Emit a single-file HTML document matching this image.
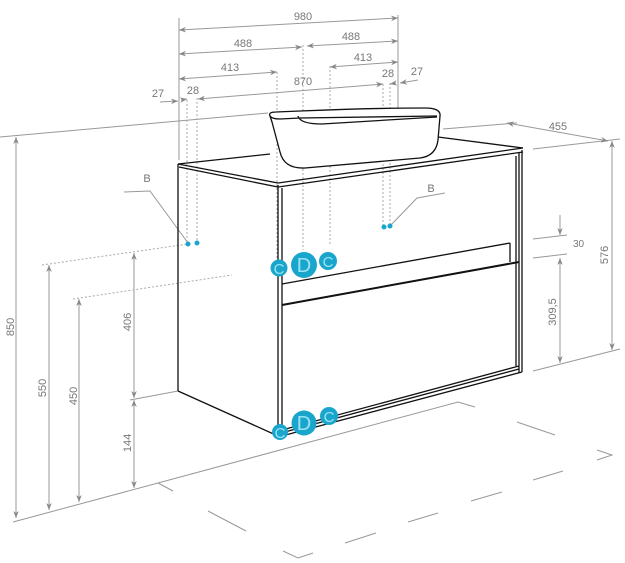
<!DOCTYPE html>
<html><head><meta charset="utf-8"><style>
html,body{margin:0;padding:0;background:#fff;}
svg{display:block;}
text{font-family:"Liberation Sans",sans-serif;fill:#777;font-size:11px;}
</style></head><body>
<svg width="625" height="563" viewBox="0 0 625 563" xmlns="http://www.w3.org/2000/svg">
<defs>
<marker id="a" viewBox="0 0 10 10" refX="10" refY="5" markerWidth="7" markerHeight="7" orient="auto-start-reverse" markerUnits="userSpaceOnUse"><path d="M0,1 L10,5 L0,9 L3,5 Z" fill="#888"/></marker>
</defs>
<g stroke="#999" stroke-width="1" fill="none">
<line x1="179" y1="30" x2="398" y2="18" marker-start="url(#a)" marker-end="url(#a)"/>
<line x1="179" y1="54" x2="302" y2="47" marker-start="url(#a)" marker-end="url(#a)"/>
<line x1="307" y1="46" x2="398" y2="41" marker-start="url(#a)" marker-end="url(#a)"/>
<line x1="179" y1="79" x2="277" y2="72" marker-start="url(#a)" marker-end="url(#a)"/>
<line x1="330" y1="67" x2="398" y2="62" marker-start="url(#a)" marker-end="url(#a)"/>
<line x1="198" y1="99" x2="383" y2="84" marker-start="url(#a)" marker-end="url(#a)"/>
<line x1="160" y1="102" x2="178" y2="101" marker-end="url(#a)"/>
<line x1="181" y1="100" x2="187" y2="99" marker-end="url(#a)"/>
<line x1="418" y1="80" x2="400" y2="83" marker-end="url(#a)"/>
<line x1="396" y1="83" x2="390" y2="84" marker-end="url(#a)"/>
<line x1="179" y1="18" x2="179" y2="160"/>
<line x1="398" y1="15" x2="398" y2="112"/>
<line x1="0" y1="137" x2="268" y2="113"/>
<line x1="16" y1="137" x2="16" y2="518" marker-start="url(#a)" marker-end="url(#a)"/>
<line x1="49" y1="265" x2="49" y2="510" marker-start="url(#a)" marker-end="url(#a)"/>
<line x1="79" y1="299" x2="79" y2="502" marker-start="url(#a)" marker-end="url(#a)"/>
<line x1="134" y1="253" x2="134" y2="398" marker-start="url(#a)" marker-end="url(#a)"/>
<line x1="134" y1="400" x2="134" y2="488" marker-start="url(#a)" marker-end="url(#a)"/>
<line x1="130" y1="400" x2="178" y2="391"/>
<polyline points="13,522 158,483 458,402 475,407"/>
<line x1="158" y1="483" x2="173" y2="491"/>
<line x1="208" y1="511" x2="246" y2="531"/>
<polyline points="283,551 298,558 313,553"/>
<line x1="345" y1="543" x2="376" y2="533"/>
<line x1="408" y1="522" x2="438" y2="513"/>
<line x1="471" y1="501" x2="502" y2="492"/>
<line x1="533" y1="480" x2="563" y2="471"/>
<polyline points="597,450 612,455 597,460"/>
<line x1="517" y1="422" x2="555" y2="435"/>
<line x1="443" y1="129" x2="517" y2="123"/>
<line x1="533" y1="149" x2="620" y2="139"/>
<line x1="507" y1="123" x2="608" y2="141" marker-start="url(#a)" marker-end="url(#a)"/>
<line x1="612" y1="141" x2="612" y2="350" marker-start="url(#a)" marker-end="url(#a)"/>
<line x1="533" y1="371" x2="620" y2="349"/>
<line x1="533" y1="239" x2="567" y2="235"/>
<line x1="533" y1="258" x2="567" y2="254"/>
<line x1="560" y1="215" x2="560" y2="235" marker-end="url(#a)"/>
<line x1="560" y1="258" x2="560" y2="363" marker-start="url(#a)" marker-end="url(#a)"/>
<polyline points="124,192 150,191 188,243"/>
<polyline points="445,193 417,198 390,226"/>
</g>
<g stroke="#aaa" stroke-width="1" stroke-dasharray="2,2" fill="none">
<line x1="187" y1="100" x2="187" y2="242"/>
<line x1="197" y1="98" x2="197" y2="241"/>
<line x1="277" y1="72" x2="277" y2="258"/>
<line x1="303" y1="45" x2="303" y2="250"/>
<line x1="330" y1="66" x2="330" y2="245"/>
<line x1="383" y1="84" x2="383" y2="225"/>
<line x1="390" y1="83" x2="390" y2="224"/>
<line x1="42" y1="265" x2="188" y2="244"/>
<line x1="73" y1="299" x2="232" y2="275"/>
</g>
<g stroke="#111" stroke-width="1.3" fill="none" stroke-linejoin="round">
<polyline points="178,164 270,154"/>
<polyline points="438,137 523,148"/>
<polyline points="178,164 278,183 523,148"/>
<polyline points="179,167 278,187 523,152"/>
<line x1="178" y1="164" x2="178" y2="391"/>
<line x1="178" y1="391" x2="278" y2="436"/>
<line x1="278" y1="185" x2="278" y2="437"/>
<line x1="282" y1="188" x2="282" y2="434"/>
<line x1="519" y1="152" x2="519" y2="373"/>
<line x1="522" y1="150" x2="522" y2="372"/>
<line x1="278" y1="437" x2="522" y2="372"/>
<line x1="281" y1="433" x2="519" y2="369"/>
<line x1="282" y1="430" x2="519" y2="366"/>
<line x1="282" y1="284" x2="510" y2="243"/>
<line x1="510" y1="243" x2="510" y2="262"/>
<line x1="516" y1="156" x2="516" y2="366"/>
<line x1="282" y1="305" x2="519" y2="262" stroke-width="2"/>
</g>
<g stroke="#111" stroke-width="1.3" fill="#fff" stroke-linejoin="round">
<path d="M270,116 Q268,112 276,112 L300,111 Q370,108 425,108 Q441,108 440,116 L438,140 Q436,156 420,158 L305,168 Q284,169 280,152 L272,122 Z"/>
<path d="M270,116 Q272,119 280,119 L300,118 L437,116" fill="none"/>
<path d="M298,116 Q300,124 322,124 L437,117" fill="none"/>
</g>
<g fill="#1aa6cc">
<circle cx="188" cy="244" r="2.5"/><circle cx="197" cy="243" r="2.5"/>
<circle cx="384" cy="227" r="2.5"/><circle cx="390" cy="226" r="2.5"/>
<circle cx="279" cy="268" r="8.5"/><circle cx="304" cy="265" r="13"/><circle cx="328" cy="261" r="9"/>
<circle cx="280" cy="432" r="8"/><circle cx="304" cy="423" r="12.5"/><circle cx="329" cy="416" r="9"/>
</g>
<text x="279" y="274" text-anchor="middle" style="fill:#9be3f3;font-size:15px">C</text>
<text x="304" y="272" text-anchor="middle" style="fill:#9be3f3;font-size:20px">D</text>
<text x="328" y="267" text-anchor="middle" style="fill:#9be3f3;font-size:15px">C</text>
<text x="280" y="438" text-anchor="middle" style="fill:#9be3f3;font-size:15px">C</text>
<text x="304" y="430" text-anchor="middle" style="fill:#9be3f3;font-size:20px">D</text>
<text x="329" y="422" text-anchor="middle" style="fill:#9be3f3;font-size:15px">C</text>
<text x="303" y="20" text-anchor="middle">980</text>
<text x="243" y="47" text-anchor="middle">488</text>
<text x="351" y="40" text-anchor="middle">488</text>
<text x="230" y="71" text-anchor="middle">413</text>
<text x="363" y="61" text-anchor="middle">413</text>
<text x="303" y="85" text-anchor="middle">870</text>
<text x="193" y="94" text-anchor="middle">28</text>
<text x="388" y="77" text-anchor="middle">28</text>
<text x="158" y="97" text-anchor="middle">27</text>
<text x="417" y="75" text-anchor="middle">27</text>
<text x="147" y="182" text-anchor="middle">B</text>
<text x="431" y="192" text-anchor="middle">B</text>
<text x="558" y="130" text-anchor="middle">455</text>
<text x="573" y="247" style="font-size:10px">30</text>
<text transform="translate(14,327) rotate(-90)" text-anchor="middle">850</text>
<text transform="translate(46,388) rotate(-90)" text-anchor="middle">550</text>
<text transform="translate(77,396) rotate(-90)" text-anchor="middle">450</text>
<text transform="translate(131,322) rotate(-90)" text-anchor="middle">406</text>
<text transform="translate(131,443) rotate(-90)" text-anchor="middle">144</text>
<text transform="translate(608,255) rotate(-90)" text-anchor="middle">576</text>
<text transform="translate(556,312) rotate(-90)" text-anchor="middle">309,5</text>
</svg>
</body></html>
